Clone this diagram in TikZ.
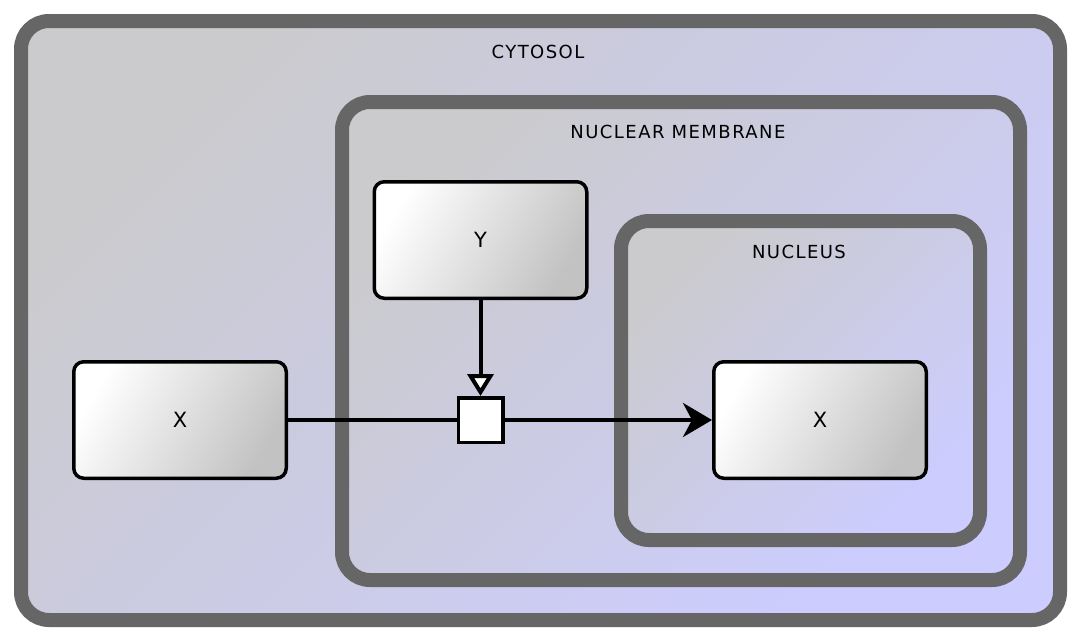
\documentclass[tikz,border=0pt]{standalone}
\usepackage{fontspec}
\setmainfont{DejaVu Sans}
\usetikzlibrary{arrows.meta}
\definecolor{compA}{RGB}{203,203,205}
\definecolor{compB}{RGB}{204,204,255}
\definecolor{compline}{RGB}{102,102,102}
\definecolor{boxB}{RGB}{194,194,194}
\begin{document}
\begin{tikzpicture}[x=1pt,y=-1pt,
  comp/.style={draw=compline, line width=14pt, rounded corners=28pt,
    top color=compA, bottom color=compB, shading angle=45, inner sep=0pt},
  complabel/.style={font=\fontsize{18}{20}\selectfont\addfontfeature{LetterSpace=8}, inner sep=0pt},
  box/.style={draw=black, line width=3.5pt, rounded corners=10pt,
    top color=white, bottom color=boxB, shading angle=60,
    minimum width=212.5pt, minimum height=116.5pt, inner sep=0pt,
    font=\fontsize{21}{23}\selectfont},
  proc/.style={draw=black, line width=3.5pt, fill=white, minimum size=44.5pt, inner sep=0pt},
  conn/.style={draw=black, line width=4pt}
]
\useasboundingbox[fill=white] (0,0) rectangle (1080,640);
\node[comp, minimum width=1039pt, minimum height=599pt] (cyto) at (540.5,320.5) {};
\node[complabel] (cytolabel) at (538,52) {CYTOSOL};
\node[comp, minimum width=678pt, minimum height=478pt] (memb) at (681,341) {};
\node[complabel] (memblabel) at (678,132) {NUCLEAR MEMBRANE};
\node[comp, minimum width=359pt, minimum height=319pt] (nucl) at (800.5,380.5) {};
\node[complabel] (nucllabel) at (799,252) {NUCLEUS};
\node[box] (x1) at (180,420) {X};
\node[box] (y) at (480.5,240) {Y};
\node[box] (x2) at (820,420) {X};
\node[proc] (p) at (480.5,420) {};
\draw[conn] (x1.east) -- (p.west);
\draw[conn, -{Stealth[length=29pt,width=34pt,inset=9pt]}] (p.east) -- (x2.west);
\draw[conn, -{Triangle[length=22pt,width=26pt,fill=white]}] (y.south) -- (p.north);
\end{tikzpicture}
\end{document}
